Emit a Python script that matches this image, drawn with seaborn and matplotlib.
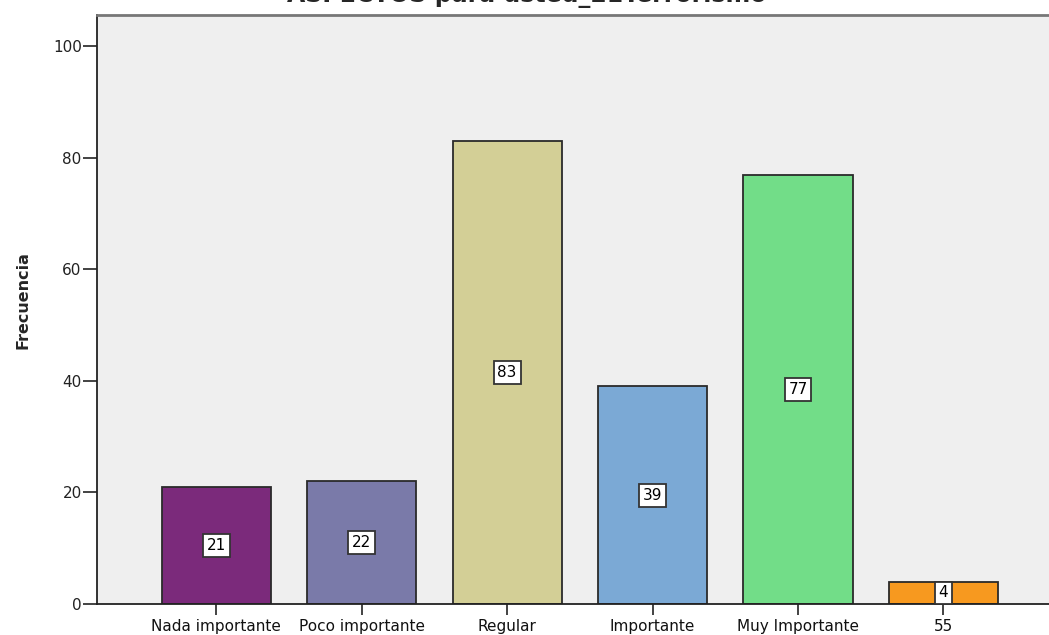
import matplotlib
matplotlib.use("Agg")
import matplotlib.pyplot as plt
import seaborn as sns
import pandas as pd

# Response categories and their frequencies
categories = ["Nada importante", "Poco importante", "Regular", "Importante", "Muy Importante", "55"]
frequencies = [21, 22, 83, 39, 77, 4]
bar_colors = ["#7B2A7B", "#7A7AA9", "#D3CF96", "#7BA9D5", "#72DD88", "#F7991F"]

title = "ASPECTOS para usted_21Terrorismo"
y_label = "Frecuencia"
y_ticks = [0, 20, 40, 60, 80, 100]

sns.set_theme(style="white")
plt.rcParams["font.family"] = ["DejaVu Sans"]

df = pd.DataFrame({"categoria": categories, "frecuencia": frequencies})

fig = plt.figure(figsize=(10.49, 6.35), dpi=100)
ax = fig.add_axes([97 / 1049, 31 / 635, 1 - 97 / 1049 + 0.002, 589 / 635])
ax.set_facecolor("#EFEFEF")

sns.barplot(data=df, x="categoria", y="frecuencia", hue="categoria",
            palette=bar_colors, legend=False, width=0.75,
            edgecolor="#2a2a2a", linewidth=1.3, saturation=1, ax=ax)

# Value boxes placed at mid-height of each bar
for i, v in enumerate(frequencies):
    ax.text(i, v / 2, str(v), ha="center", va="center", fontsize=11, color="black",
            bbox=dict(boxstyle="square,pad=0.25", facecolor="white",
                      edgecolor="#333333", linewidth=1.3), zorder=5)

ax.set_xlim(-0.82, 5.74)
ax.set_ylim(0, 105.6)
ax.set_yticks(y_ticks)
ax.set_yticklabels([str(t) for t in y_ticks], fontsize=11, color="#222222")
ax.tick_params(axis="y", direction="out", length=10, width=1.2, color="#222222", pad=1, left=True)
ax.tick_params(axis="x", direction="out", length=8, width=1.2, color="#222222", pad=3, bottom=True,
               labelsize=11, labelcolor="#111111")

ax.set_xlabel("")
ax.set_ylabel(y_label, fontsize=11.5, fontweight="bold")
ax.yaxis.set_label_coords(-66 / 952, (604 - 300) / 589)

for side in ["left", "bottom"]:
    ax.spines[side].set_visible(True)
    ax.spines[side].set_color("#222222")
    ax.spines[side].set_linewidth(1.3)
ax.spines["top"].set_visible(True)
ax.spines["top"].set_color("#777777")
ax.spines["top"].set_linewidth(2)
ax.spines["right"].set_visible(False)

fig.text(0.502, 1 - 2 / 635, title, ha="center", va="baseline", fontsize=17, fontweight="bold")

fig.savefig("out.png", dpi=100, facecolor="white")
